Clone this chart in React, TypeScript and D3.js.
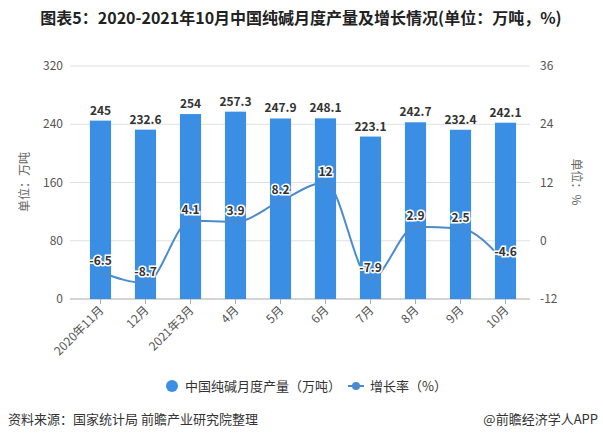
import React from "react";
import * as d3 from "d3";

const categories = ["2020年11月", "12月", "2021年3月", "4月", "5月", "6月", "7月", "8月", "9月", "10月"];
const output = [245, 232.6, 254, 257.3, 247.9, 248.1, 223.1, 242.7, 232.4, 242.1];
const growth = [-6.5, -8.7, 4.1, 3.9, 8.2, 12, -7.9, 2.9, 2.5, -4.6];
const leftTicks = [0, 80, 160, 240, 320];
const rightTicks = [-12, 0, 12, 24, 36];

const W = 603;
const H = 442;
const FONT = "'Noto Sans CJK SC', 'Noto Sans', sans-serif";
const BAR = "#3a8ee4";
const LINE = "#4a8bd0";

export default function App() {
  const x = d3.scaleBand<string>().domain(categories).range([78, 528]).paddingInner(0.53).paddingOuter(0.265);
  const yL = d3.scaleLinear().domain([0, 320]).range([299, 66]);
  const yR = d3.scaleLinear().domain([-12, 36]).range([299, 66]);
  const cx = (c: string) => (x(c) as number) + x.bandwidth() / 2;
  const line = d3
    .line<number>()
    .x((_, i) => cx(categories[i]))
    .y((d) => yR(d))
    .curve(d3.curveMonotoneX);

  return (
    <svg width={W} height={H} style={{ position: "absolute", left: 0, top: 0, background: "#fff" }} fontFamily={FONT}>
      <rect width={W} height={H} fill="#fff" />
      <text x={301} y={24} textAnchor="middle" fontSize={16} fontWeight="bold" fill="#222">
        图表5：2020-2021年10月中国纯碱月度产量及增长情况(单位：万吨，%)
      </text>
      {/* gridlines */}
      {leftTicks.map((t) => (
        <line key={t} x1={70} x2={530} y1={yL(t)} y2={yL(t)} stroke={t === 0 ? "#aaa" : "#e0e0e0"} strokeWidth={1} />
      ))}
      {leftTicks.map((t) => (
        <text key={"l" + t} x={63} y={yL(t) + 4} textAnchor="end" fontSize={12} fill="#555">
          {t}
        </text>
      ))}
      {rightTicks.map((t) => (
        <text key={"r" + t} x={540} y={yR(t) + 4} textAnchor="start" fontSize={12} fill="#555">
          {t}
        </text>
      ))}
      <text transform="translate(29,182) rotate(-90)" textAnchor="middle" fontSize={12} fill="#666">
        单位：万吨
      </text>
      <text transform="translate(572,182) rotate(90)" textAnchor="middle" fontSize={12} fill="#666">
        单位：%
      </text>
      {/* bars */}
      {categories.map((c, i) => (
        <rect key={c} x={x(c)} y={yL(output[i])} width={x.bandwidth()} height={yL(0) - yL(output[i])} fill={BAR} />
      ))}
      {/* x ticks */}
      {categories.map((c) => (
        <line key={"t" + c} x1={cx(c)} x2={cx(c)} y1={299} y2={304} stroke="#aaa" />
      ))}
      {categories.map((c) => (
        <text
          key={"x" + c}
          transform={`translate(${cx(c) + 4},${311}) rotate(-45)`}
          textAnchor="end"
          fontSize={12}
          fill="#555"
        >
          {c}
        </text>
      ))}
      {/* bar labels */}
      {categories.map((c, i) => (
        <text key={"bl" + c} x={cx(c)} y={yL(output[i]) - 6} textAnchor="middle" fontSize={12} fontWeight="bold" fill="#333">
          {output[i]}
        </text>
      ))}
      {/* line */}
      <path d={line(growth) || ""} fill="none" stroke={LINE} strokeWidth={2} />
      {growth.map((g, i) => (
        <circle key={"p" + i} cx={cx(categories[i])} cy={yR(g)} r={2.5} fill={LINE} opacity={0.5} />
      ))}
      {growth.map((g, i) => (
        <text
          key={"gl" + i}
          x={cx(categories[i])}
          y={yR(g) - 7}
          textAnchor="middle"
          fontSize={12}
          fontWeight="bold"
          fill="#333"
          stroke="#fff"
          strokeWidth={3}
          paintOrder="stroke"
        >
          {g}
        </text>
      ))}
      {/* legend */}
      <circle cx={172} cy={386} r={6} fill={BAR} />
      <text x={185} y={391} fontSize={13} fill="#333">
        中国纯碱月度产量（万吨）
      </text>
      <line x1={348} x2={364} y1={386} y2={386} stroke={LINE} strokeWidth={2} />
      <circle cx={356} cy={386} r={4} fill={LINE} />
      <text x={370} y={391} fontSize={13} fill="#333">
        增长率（%）
      </text>
      {/* footer */}
      <text x={8} y={424} fontSize={13} fill="#333">
        资料来源：国家统计局 前瞻产业研究院整理
      </text>
      <text x={598} y={424} textAnchor="end" fontSize={13} fill="#333">
        @前瞻经济学人APP
      </text>
    </svg>
  );
}
